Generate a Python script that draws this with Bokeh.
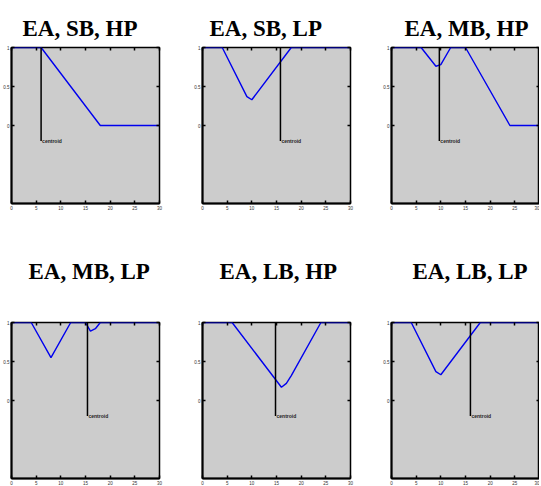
from bokeh.plotting import figure
from bokeh.models import Range1d, FixedTicker, LinearAxis
from bokeh.layouts import column, row
from bokeh.core.properties import value
from bokeh.embed import file_html
from bokeh.resources import INLINE

# ---- data ----
titles = ["EA, SB, HP", "EA, SB, LP", "EA, MB, HP",
          "EA, MB, LP", "EA, LB, HP", "EA, LB, LP"]
x_sbhp = [0, 6, 18, 30]
y_sbhp = [1, 1, 0, 0]
x_sblp = [0, 4, 9, 10, 18, 30]
y_sblp = [1, 1, 0.37, 0.33, 1, 1]
x_mbhp = [0, 6, 9, 10, 12, 15, 24, 30]
y_mbhp = [1, 1, 0.76, 0.78, 1, 1, 0, 0]
x_mblp = [0, 4, 8, 12, 15, 16, 17, 18, 30]
y_mblp = [1, 1, 0.55, 1, 1, 0.89, 0.92, 1, 1]
x_lbhp = [0, 6, 16, 17, 18, 24, 30]
y_lbhp = [1, 1, 0.17, 0.22, 0.32, 1, 1]
x_lblp = [0, 4, 9, 10, 18, 30]
y_lblp = [1, 1, 0.37, 0.33, 1, 1]
centroids = [6, 15.8, 9.7, 15.4, 14.8, 16]
centroid_low = -0.2
centroid_text = "centroid"
x_ticks = [0, 5, 10, 15, 20, 25, 30]
y_ticks = [0, 0.5, 1]

series = [(x_sbhp, y_sbhp), (x_sblp, y_sblp), (x_mbhp, y_mbhp),
          (x_mblp, y_mblp), (x_lbhp, y_lbhp), (x_lblp, y_lblp)]

# ---- style / layout constants ----
TICK_FONT = "4.5px"
TITLE_SHIFT = [11, 7, 13, 17, 17, 21]


def make_panel(i):
    r = i // 3
    c = i % 3
    top = 47 if r == 0 else 107
    bottom = 12 if r == 0 else 6
    left = 11 if c == 0 else 10
    right = [32, 30, 0][c]
    p = figure(frame_width=148, frame_height=156,
               x_range=Range1d(0, 30), y_range=Range1d(-1, 1),
               output_backend="svg", toolbar_location=None,
               min_border_left=left, min_border_right=right,
               min_border_top=top, min_border_bottom=bottom,
               background_fill_color="#cccccc", border_fill_color="white")
    p.title.text = titles[i]
    p.title.text_font = "Liberation Serif"
    p.title.text_font_size = "23px"
    p.title.text_font_style = "bold"
    p.title.text_color = "black"
    p.title.align = "left"
    p.title.offset = TITLE_SHIFT[i]
    p.title.standoff = 13 if r == 0 else 78
    p.xgrid.visible = False
    p.ygrid.visible = False
    p.outline_line_color = "black"
    p.outline_line_width = 1.5

    xa = p.xaxis[0]
    xa.ticker = FixedTicker(ticks=x_ticks)
    ya = p.yaxis[0]
    ya.ticker = FixedTicker(ticks=y_ticks)
    for ax in (xa, ya):
        ax.major_tick_in = 3
        ax.major_tick_out = 0
        ax.minor_tick_line_color = None
        ax.major_label_text_font_size = TICK_FONT
        ax.major_label_text_color = "#333333"
        ax.major_label_text_font = "Liberation Sans"
        ax.major_label_standoff = 2
        ax.axis_line_width = 2
        ax.major_tick_line_width = 1.5

    top_ax = LinearAxis(ticker=FixedTicker(ticks=x_ticks),
                        major_label_text_font_size="1px",
                        major_label_text_color=None,
                        major_label_standoff=0, major_tick_in=3,
                        major_tick_out=0, minor_tick_line_color=None,
                        axis_line_color=None, major_tick_line_width=1.5)
    right_ax = LinearAxis(ticker=FixedTicker(ticks=y_ticks),
                          major_label_text_font_size="1px",
                          major_label_text_color=None,
                          major_label_standoff=0, major_tick_in=3,
                          major_tick_out=0, minor_tick_line_color=None,
                          axis_line_color=None, major_tick_line_width=1.5)
    p.add_layout(top_ax, "above")
    p.add_layout(right_ax, "right")

    xs, ys = series[i]
    p.line(xs, ys, line_color="#0000ee", line_width=1.4)
    cx = centroids[i]
    p.segment(x0=[cx], y0=[centroid_low], x1=[cx], y1=[1],
              line_color="black", line_width=1.5)
    p.text(x=[cx], y=[centroid_low], text=[centroid_text], x_offset=1,
           text_font=value("Liberation Sans"), text_font_size="5px",
           text_font_style="bold", text_baseline="middle",
           text_color="#222222")
    return p


panels = [make_panel(i) for i in range(6)]
layout = column(row(*panels[:3]), row(*panels[3:]))
open("out.html", "w").write(file_html(layout, INLINE))
